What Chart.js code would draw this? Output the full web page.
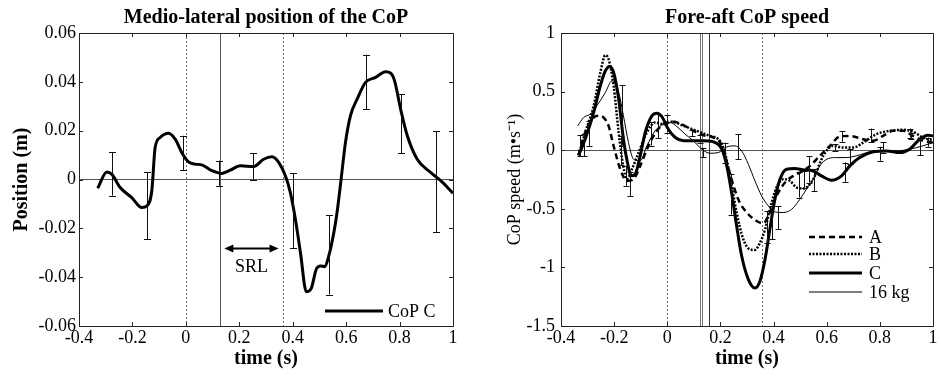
<!DOCTYPE html>
<html>
<head>
<meta charset="utf-8">
<script src="https://cdn.jsdelivr.net/npm/chart.js@4.4.1/dist/chart.umd.min.js"></script>
<style>
  html, body { margin: 0; padding: 0; background: #fff; }
  #left { position: absolute; left: 0; top: 0; }
  #right { position: absolute; left: 470px; top: 0; }
</style>
</head>
<body>
<canvas id="left" width="470" height="376"></canvas>
<canvas id="right" width="471" height="376"></canvas>
<script>
// ---- axis ticks ----
const timeTicks = [-0.4, -0.2, 0, 0.2, 0.4, 0.6, 0.8, 1];
const timeTickLabels = ['-0.4', '-0.2', '0', '0.2', '0.4', '0.6', '0.8', '1'];
const posTicks = [-0.06, -0.04, -0.02, 0, 0.02, 0.04, 0.06];
const posTickLabels = ['-0.06', '-0.04', '-0.02', '0', '0.02', '0.04', '0.06'];
const speedTicks = [-1.5, -1, -0.5, 0, 0.5, 1];
const speedTickLabels = ['-1.5', '-1', '-0.5', '0', '0.5', '1'];

// ---- medio-lateral CoP position (CoP C) ----
const mlTime = [-0.33, -0.296, -0.2775, -0.246, -0.2025, -0.165, -0.146, -0.1275, -0.115, -0.096,
  -0.065, -0.04, -0.015, 0.01, 0.035, 0.06, 0.0975, 0.135, 0.166, 0.204,
  0.254, 0.291, 0.3225, 0.3475, 0.3725, 0.391, 0.41, 0.429, 0.451, 0.469,
  0.489, 0.504, 0.52, 0.535, 0.554, 0.566, 0.581, 0.5975, 0.616, 0.641,
  0.6725, 0.71, 0.7475, 0.766, 0.781, 0.804, 0.829, 0.866, 0.916, 0.954, 1.0];
const mlPos = [-0.0036, 0.0031, 0.0022, -0.0033, -0.0074, -0.0115, -0.0108, -0.0046, 0.0131, 0.0172,
  0.0189, 0.0165, 0.011, 0.0072, 0.0063, 0.006, 0.0036, 0.0025, 0.0038, 0.0056,
  0.0053, 0.0083, 0.0093, 0.007, 0.0015, -0.0053, -0.0163, -0.03, -0.046, -0.0447,
  -0.0365, -0.0354, -0.0357, -0.0313, -0.0217, -0.0135, 0.0, 0.0152, 0.0261, 0.0329,
  0.0398, 0.0418, 0.0441, 0.0436, 0.0405, 0.0288, 0.0179, 0.0083, 0.0029, -0.0005, -0.0056];
const mlErrTime = [-0.2775, -0.146, -0.0125, 0.1225, 0.251, 0.401, 0.535, 0.6725, 0.806, 0.936];
const mlErrHigh = [0.0111, 0.0029, 0.0179, 0.0077, 0.0107, 0.0026, -0.0146, 0.0511, 0.0349, 0.0197];
const mlErrLow = [-0.0066, -0.0245, 0.0038, -0.0026, 0.0, -0.028, -0.0471, 0.0287, 0.0107, -0.0217];
const mlMarkers = [0, 0.127, 0.365];

// ---- fore-aft CoP speed ----
const aTime = [-0.334, -0.309, -0.277, -0.258, -0.24, -0.221, -0.202, -0.177, -0.152, -0.127,
  -0.102, -0.071, -0.039, -0.008, 0.023, 0.061, 0.098, 0.136, 0.174, 0.199,
  0.217, 0.242, 0.267, 0.299, 0.336, 0.361, 0.386, 0.411, 0.443, 0.474,
  0.499, 0.537, 0.574, 0.612, 0.649, 0.687, 0.737, 0.775, 0.812, 0.85,
  0.887, 0.925, 0.962, 1.0];
const aSpeed = [-0.043, 0.151, 0.279, 0.293, 0.279, 0.208, 0.037, -0.162, -0.262, -0.248,
  -0.134, 0.037, 0.165, 0.231, 0.242, 0.214, 0.165, 0.128, 0.108, 0.065,
  -0.048, -0.248, -0.419, -0.532, -0.604, -0.624, -0.532, -0.39, -0.276, -0.219,
  -0.191, -0.134, -0.048, 0.037, 0.117, 0.122, 0.094, 0.08, 0.122, 0.165,
  0.165, 0.122, 0.08, 0.065];

const bTime = [-0.334, -0.309, -0.277, -0.252, -0.233, -0.221, -0.202, -0.183, -0.166, -0.152,
  -0.133, -0.108, -0.077, -0.046, -0.014, 0.017, 0.061, 0.111, 0.161, 0.192,
  0.211, 0.236, 0.261, 0.286, 0.311, 0.33, 0.349, 0.368, 0.386, 0.411,
  0.436, 0.462, 0.487, 0.512, 0.549, 0.587, 0.624, 0.662, 0.7, 0.737,
  0.787, 0.837, 0.887, 0.925, 0.962, 1.0];
const bSpeed = [-0.043, 0.151, 0.379, 0.663, 0.811, 0.777, 0.55, 0.151, -0.134, -0.248,
  -0.162, -0.02, 0.151, 0.236, 0.222, 0.242, 0.208, 0.165, 0.122, 0.094,
  0.023, -0.219, -0.532, -0.76, -0.846, -0.851, -0.789, -0.675, -0.504, -0.319,
  -0.248, -0.262, -0.319, -0.327, -0.248, -0.048, 0.037, 0.023, 0.023, 0.065,
  0.137, 0.165, 0.174, 0.157, 0.108, 0.08];

const cTime = [-0.334, -0.309, -0.277, -0.252, -0.233, -0.217, -0.202, -0.183, -0.165, -0.15,
  -0.136, -0.121, -0.102, -0.083, -0.058, -0.039, -0.021, 0.004, 0.03, 0.061,
  0.098, 0.136, 0.174, 0.205, 0.224, 0.242, 0.261, 0.28, 0.305, 0.33,
  0.349, 0.368, 0.386, 0.405, 0.424, 0.449, 0.48, 0.512, 0.549, 0.58,
  0.618, 0.656, 0.687, 0.724, 0.775, 0.825, 0.875, 0.912, 0.95, 0.981, 1.0];
const cSpeed = [-0.043, 0.094, 0.322, 0.55, 0.678, 0.715, 0.663, 0.436, 0.094, -0.105,
  -0.219, -0.205, -0.048, 0.151, 0.293, 0.316, 0.288, 0.179, 0.108, 0.08,
  0.08, 0.08, 0.071, 0.009, -0.134, -0.362, -0.646, -0.903, -1.102, -1.176,
  -1.116, -0.931, -0.675, -0.419, -0.248, -0.162, -0.157, -0.168, -0.177, -0.219,
  -0.256, -0.219, -0.134, -0.063, -0.014, -0.006, -0.02, 0.009, 0.094, 0.128, 0.122];

const kgTime = [-0.337, -0.315, -0.29, -0.265, -0.233, -0.208, -0.183, -0.165, -0.146, -0.127,
  -0.102, -0.077, -0.046, -0.014, 0.011, 0.036, 0.067, 0.098, 0.13, 0.161,
  0.192, 0.224, 0.255, 0.28, 0.305, 0.33, 0.355, 0.38, 0.405, 0.436,
  0.468, 0.499, 0.524, 0.549, 0.574, 0.606, 0.637, 0.674, 0.712, 0.762,
  0.812, 0.862, 0.912, 0.962, 1.0];
const kgSpeed = [0.208, 0.279, 0.308, 0.379, 0.493, 0.592, 0.493, 0.293, 0.065, -0.077,
  -0.091, 0.037, 0.165, 0.222, 0.236, 0.202, 0.137, 0.08, 0.009, -0.026,
  -0.02, 0.028, 0.037, -0.006, -0.12, -0.262, -0.39, -0.475, -0.527, -0.532,
  -0.504, -0.419, -0.333, -0.248, -0.134, -0.071, -0.063, -0.063, -0.048, -0.014,
  -0.006, -0.006, 0.009, 0.037, 0.065];

const spErrTime = [-0.327, -0.315, -0.296, -0.176, -0.171, -0.155, -0.14, -0.06, -0.035, -0.002,
  0.092, 0.123, 0.133, 0.217, 0.24, 0.267, 0.374, 0.393, 0.417, 0.496,
  0.514, 0.533, 0.551, 0.63, 0.656, 0.668, 0.687, 0.768, 0.8, 0.812,
  0.912, 0.918, 0.95, 0.981];
const spErrHigh = [0.13, 0.137, 0.25, 0.12, 0.558, -0.134, -0.19, 0.24, 0.31, 0.3,
  0.17, 0.128, 0.02, 0.065, -0.2, 0.134, -0.518, -0.476, -0.476, -0.19,
  -0.177, -0.049, -0.162, 0.051, 0.165, -0.105, 0.009, 0.185, 0.03, 0.066,
  0.185, 0.151, 0.094, 0.108];
const spErrLow = [-0.05, -0.049, 0.037, -0.13, 0.04, -0.305, -0.39, 0.04, 0.1, 0.15,
  0.12, 0.065, -0.057, -0.105, -0.55, -0.077, -0.79, -0.76, -0.675, -0.404,
  -0.319, -0.276, -0.347, -0.006, 0.071, -0.27, -0.12, 0.066, -0.09, -0.02,
  0.108, 0.094, -0.043, 0.03];
const spMarkers = [0, 0.123, 0.131, 0.157, 0.357];

const FONT = "'Liberation Serif', 'Times New Roman', serif";
Chart.defaults.font.family = FONT;
Chart.defaults.color = '#000';

function pts(xs, ys) {
  return xs.map((x, i) => ({ x: x, y: ys[i] }));
}

// box, inward ticks, marker lines, error bars, legend and notes
const figurePlugin = {
  id: 'figure',
  beforeDatasetsDraw(chart, args, opts) {
    const { ctx, chartArea: a, scales: { x } } = chart;
    ctx.save();
    ctx.lineWidth = 1;
    (opts.markers || []).forEach(m => {
      const px = Math.round(x.getPixelForValue(m.t)) + 0.5;
      ctx.strokeStyle = m.color;
      ctx.setLineDash(m.dash || []);
      ctx.beginPath();
      ctx.moveTo(px, a.top);
      ctx.lineTo(px, a.bottom);
      ctx.stroke();
    });
    ctx.restore();
  },
  afterDatasetsDraw(chart, args, opts) {
    const { ctx, chartArea: a, scales: { x, y } } = chart;
    ctx.save();
    ctx.strokeStyle = '#111';
    ctx.lineWidth = 1;
    const e = opts.errors;
    if (e) {
      e.t.forEach((t, i) => {
        const px = Math.round(x.getPixelForValue(t)) + 0.5;
        const y1 = y.getPixelForValue(e.hi[i]);
        const y2 = y.getPixelForValue(e.lo[i]);
        ctx.beginPath();
        ctx.moveTo(px, y1); ctx.lineTo(px, y2);
        ctx.moveTo(px - e.cap, Math.round(y1) + 0.5); ctx.lineTo(px + e.cap, Math.round(y1) + 0.5);
        ctx.moveTo(px - e.cap, Math.round(y2) + 0.5); ctx.lineTo(px + e.cap, Math.round(y2) + 0.5);
        ctx.stroke();
      });
    }

    // frame with inward ticks
    ctx.strokeStyle = '#222';
    ctx.strokeRect(Math.round(a.left) + 0.5, Math.round(a.top) + 0.5,
      Math.round(a.right - a.left), Math.round(a.bottom - a.top));
    ctx.beginPath();
    x.ticks.forEach(tk => {
      const px = Math.round(x.getPixelForValue(tk.value)) + 0.5;
      ctx.moveTo(px, a.bottom); ctx.lineTo(px, a.bottom - 4);
      ctx.moveTo(px, a.top); ctx.lineTo(px, a.top + 4);
    });
    y.ticks.forEach(tk => {
      const py = Math.round(y.getPixelForValue(tk.value)) + 0.5;
      ctx.moveTo(a.left, py); ctx.lineTo(a.left + 4, py);
      ctx.moveTo(a.right, py); ctx.lineTo(a.right - 4, py);
    });
    ctx.stroke();

    // legend
    const lg = opts.legend;
    if (lg) {
      ctx.font = '18px ' + FONT;
      ctx.textBaseline = 'middle';
      ctx.textAlign = 'left';
      ctx.fillStyle = '#000';
      lg.rows.forEach(r => {
        const ds = chart.data.datasets[r.ds];
        ctx.strokeStyle = '#000';
        ctx.lineWidth = ds.borderWidth;
        ctx.setLineDash(ds.borderDash || []);
        ctx.beginPath();
        ctx.moveTo(lg.x0, r.y); ctx.lineTo(lg.x1, r.y);
        ctx.stroke();
        ctx.fillText(ds.label, lg.xText, r.y + 1);
      });
      ctx.setLineDash([]);
    }

    // SRL arrow
    const s = opts.srl;
    if (s) {
      const x1 = x.getPixelForValue(s.from), x2 = x.getPixelForValue(s.to);
      const py = Math.round(y.getPixelForValue(s.y)) + 0.5;
      ctx.strokeStyle = '#000';
      ctx.fillStyle = '#000';
      ctx.lineWidth = 2;
      ctx.beginPath();
      ctx.moveTo(x1 + 6, py); ctx.lineTo(x2 - 6, py);
      ctx.stroke();
      ctx.beginPath();
      ctx.moveTo(x1, py); ctx.lineTo(x1 + 9, py - 4); ctx.lineTo(x1 + 9, py + 4); ctx.closePath();
      ctx.moveTo(x2, py); ctx.lineTo(x2 - 9, py - 4); ctx.lineTo(x2 - 9, py + 4); ctx.closePath();
      ctx.fill();
      ctx.font = '18px ' + FONT;
      ctx.textAlign = 'center';
      ctx.textBaseline = 'middle';
      ctx.fillText(s.label, x.getPixelForValue((s.from + s.to) / 2), y.getPixelForValue(s.labelY));
    }
    ctx.restore();
  }
};

function axes(yMin, yMax, yTicks, yLabels, yTitle, yTitleFont, yTitlePad, yWidth, yPad) {
  return {
    x: {
      type: 'linear', min: -0.4, max: 1,
      afterBuildTicks: s => { s.ticks = timeTicks.map(v => ({ value: v })); },
      afterFit: s => { s.height = 50; },
      ticks: { callback: (v, i) => timeTickLabels[i], font: { size: 18 }, padding: 1, maxRotation: 0, autoSkip: false },
      grid: { display: false, drawTicks: false },
      border: { display: false },
      title: { display: true, text: 'time (s)', font: { size: 20, weight: 'bold' }, padding: { top: 0, bottom: 5 } }
    },
    y: {
      type: 'linear', min: yMin, max: yMax,
      afterBuildTicks: s => { s.ticks = yTicks.map(v => ({ value: v })); },
      afterFit: s => { s.width = yWidth; },
      ticks: { callback: (v, i) => yLabels[i], font: { size: 18 }, padding: yPad, autoSkip: false },
      grid: { drawTicks: false, color: c => (c.tick && c.tick.value === 0 ? '#555' : 'rgba(0,0,0,0)'), lineWidth: 1 },
      border: { display: false },
      title: { display: true, text: yTitle, font: yTitleFont, padding: { top: yTitlePad, bottom: 0 } }
    }
  };
}

function titleOpts(text) {
  return { display: true, text: text, fullSize: false, font: { size: 20, weight: 'bold' }, padding: { top: 6, bottom: 3 } };
}

new Chart(document.getElementById('left'), {
  type: 'line',
  data: {
    datasets: [{
      label: 'CoP C', data: pts(mlTime, mlPos),
      borderColor: '#000', borderWidth: 3, pointRadius: 0, cubicInterpolationMode: 'monotone'
    }]
  },
  options: {
    responsive: false, animation: false, parsing: true,
    layout: { padding: { left: 0, right: 17, top: 0, bottom: 0 } },
    scales: axes(-0.06, 0.06, posTicks, posTickLabels, 'Position (m)', { size: 20, weight: 'bold' }, 10, 79, 3),
    plugins: {
      legend: { display: false }, tooltip: { enabled: false },
      title: titleOpts('Medio-lateral position of the CoP'),
      figure: {
        markers: [
          { t: mlMarkers[0], color: '#666', dash: [2, 2] },
          { t: mlMarkers[1], color: '#555' },
          { t: mlMarkers[2], color: '#666', dash: [2, 2] }
        ],
        errors: { t: mlErrTime, hi: mlErrHigh, lo: mlErrLow, cap: 3.5 },
        legend: { x0: 325, x1: 383, xText: 388, rows: [{ ds: 0, y: 311 }] },
        srl: { from: 0.144, to: 0.347, y: -0.0279, label: 'SRL', labelY: -0.0358 }
      }
    }
  },
  plugins: [figurePlugin]
});

new Chart(document.getElementById('right'), {
  type: 'line',
  data: {
    datasets: [
      { label: 'A', data: pts(aTime, aSpeed), borderColor: '#000', borderWidth: 2.5, borderDash: [6, 4],
        pointRadius: 0, cubicInterpolationMode: 'monotone', order: 3 },
      { label: 'B', data: pts(bTime, bSpeed), borderColor: '#000', borderWidth: 2.5, borderDash: [2, 1.5],
        pointRadius: 0, cubicInterpolationMode: 'monotone', order: 2 },
      { label: 'C', data: pts(cTime, cSpeed), borderColor: '#000', borderWidth: 3,
        pointRadius: 0, cubicInterpolationMode: 'monotone', order: 1 },
      { label: '16 kg', data: pts(kgTime, kgSpeed), borderColor: '#000', borderWidth: 1,
        pointRadius: 0, cubicInterpolationMode: 'monotone', order: 4 }
    ]
  },
  options: {
    responsive: false, animation: false,
    layout: { padding: { left: 0, right: 8, top: 0, bottom: 0 } },
    scales: axes(-1.5, 1, speedTicks, speedTickLabels, 'CoP speed (m\u2022s\u207B\u00B9)', { size: 18 }, 34, 91, 6),
    plugins: {
      legend: { display: false }, tooltip: { enabled: false },
      title: titleOpts('Fore-aft CoP speed'),
      figure: {
        markers: [
          { t: spMarkers[0], color: '#666', dash: [2, 2] },
          { t: spMarkers[1], color: '#777' },
          { t: spMarkers[2], color: '#777' },
          { t: spMarkers[3], color: '#333' },
          { t: spMarkers[4], color: '#666', dash: [2, 2] }
        ],
        errors: { t: spErrTime, hi: spErrHigh, lo: spErrLow, cap: 3 },
        legend: { x0: 339, x1: 392, xText: 399, rows: [{ ds: 0, y: 237 }, { ds: 1, y: 254 }, { ds: 2, y: 273 }, { ds: 3, y: 292 }] }
      }
    }
  },
  plugins: [figurePlugin]
});
</script>
</body>
</html>
